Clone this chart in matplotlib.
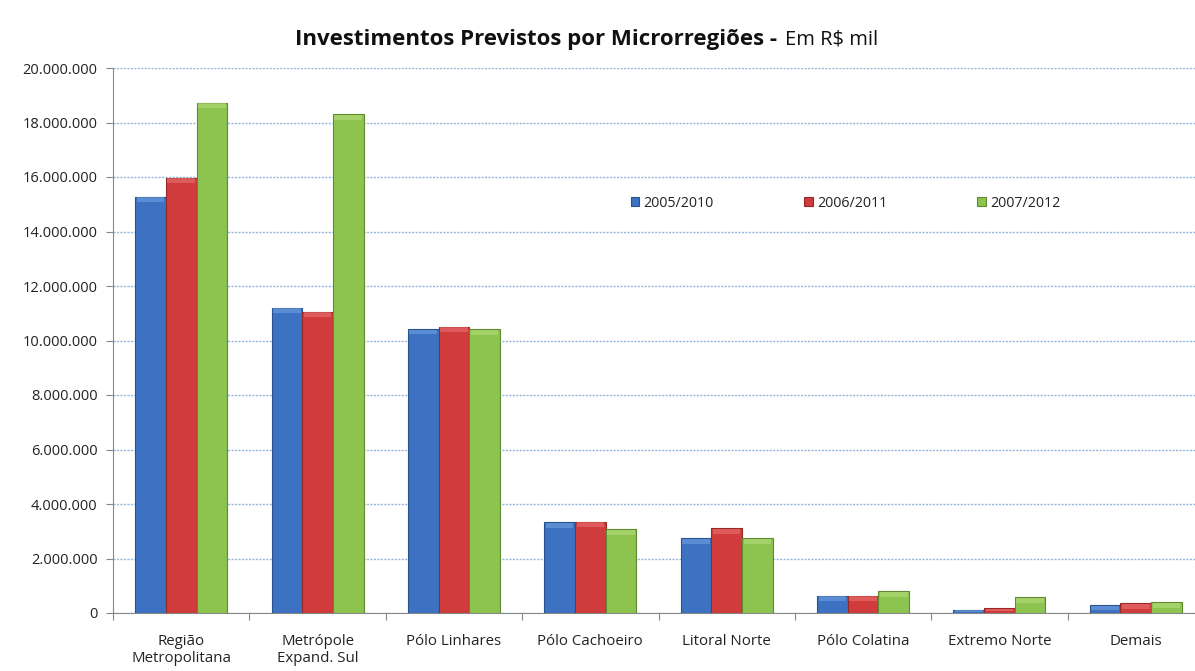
import numpy as np
import matplotlib
matplotlib.use('Agg')
import matplotlib.pyplot as plt
from matplotlib.ticker import FuncFormatter, FixedLocator, NullFormatter

plt.rcParams['font.family'] = ['Open Sans', 'DejaVu Sans']

regioes = ['Região\nMetropolitana', 'Metrópole\nExpand. Sul', 'Pólo Linhares', 'Pólo Cachoeiro',
           'Litoral Norte', 'Pólo Colatina', 'Extremo Norte', 'Demais']
series = ['2005/2010', '2006/2011', '2007/2012']
# valores em R$ mil
v_2005 = [15280000, 11200000, 10420000, 3330000, 2740000, 630000, 120000, 280000]
v_2006 = [15970000, 11060000, 10500000, 3350000, 3110000, 630000, 170000, 360000]
v_2007 = [18730000, 18300000, 10410000, 3070000, 2740000, 800000, 580000, 390000]

cores = ['#3d72c2', '#d03c3c', '#8dc450']
topos = ['#6fa0e0', '#ea7070', '#b5dc7a']
bordas = ['#2a528f', '#962828', '#5f8a30']

fig = plt.figure(figsize=(11.95, 6.71), dpi=100)
ax = fig.add_axes([113/1195, 58/671, 1091/1195, 545/671])

x = np.arange(len(regioes))
w = 0.225
cap = 180000  # faixa clara no topo (efeito bisel)
for i, vals in enumerate([v_2005, v_2006, v_2007]):
    vals = np.array(vals)
    pos = x + (i - 1) * w
    ax.bar(pos, vals, w, color=cores[i], edgecolor=bordas[i], linewidth=0.8,
           label=series[i], zorder=3)
    h = np.minimum(cap, vals * 0.5)
    ax.bar(pos, h, w * 0.9, bottom=vals - h * 1.1, color=topos[i], linewidth=0,
           alpha=0.6, zorder=4)

ax.set_xlim(-0.5, len(regioes) - 0.5)
ax.set_ylim(0, 20000000)
ax.set_yticks(np.arange(0, 20000001, 2000000))
ax.yaxis.set_major_formatter(FuncFormatter(lambda v, p: f'{int(v):,}'.replace(',', '.')))
ax.grid(axis='y', color='#94b5dc', linestyle=(0, (1.5, 1)), linewidth=1.0, zorder=0)

ax.xaxis.set_major_locator(FixedLocator(np.arange(-0.5, len(regioes), 1)))
ax.xaxis.set_major_formatter(NullFormatter())
ax.xaxis.set_minor_locator(FixedLocator(x))
ax.set_xticklabels(regioes, minor=True)
ax.tick_params(axis='x', which='minor', length=0, pad=15, labelsize=10.8, colors='#222222')
ax.tick_params(axis='x', which='major', length=5, color='#888888')
ax.tick_params(axis='y', length=5, color='#888888', labelsize=10.5, labelcolor='#222222', pad=6)

for s in ['top', 'right']:
    ax.spines[s].set_visible(False)
for s in ['left', 'bottom']:
    ax.spines[s].set_color('#888888')

ax.legend(loc='upper left', bbox_to_anchor=(505/1091, (613-183)/545), ncol=3, frameon=False,
          handlelength=0.6, handleheight=0.6, handletextpad=0.3, columnspacing=6.3,
          fontsize=10.3, labelcolor='#222222')

fig.text(777/1195, 1 - 39/671, 'Investimentos Previstos por Microrregiões -', ha='right', va='center',
         fontsize=16, fontweight='bold', color='#111111')
fig.text(785/1195, 1 - 39/671, 'Em R$ mil', ha='left', va='center', fontsize=14.5, color='#111111')

fig.savefig('out.png', dpi=100)
